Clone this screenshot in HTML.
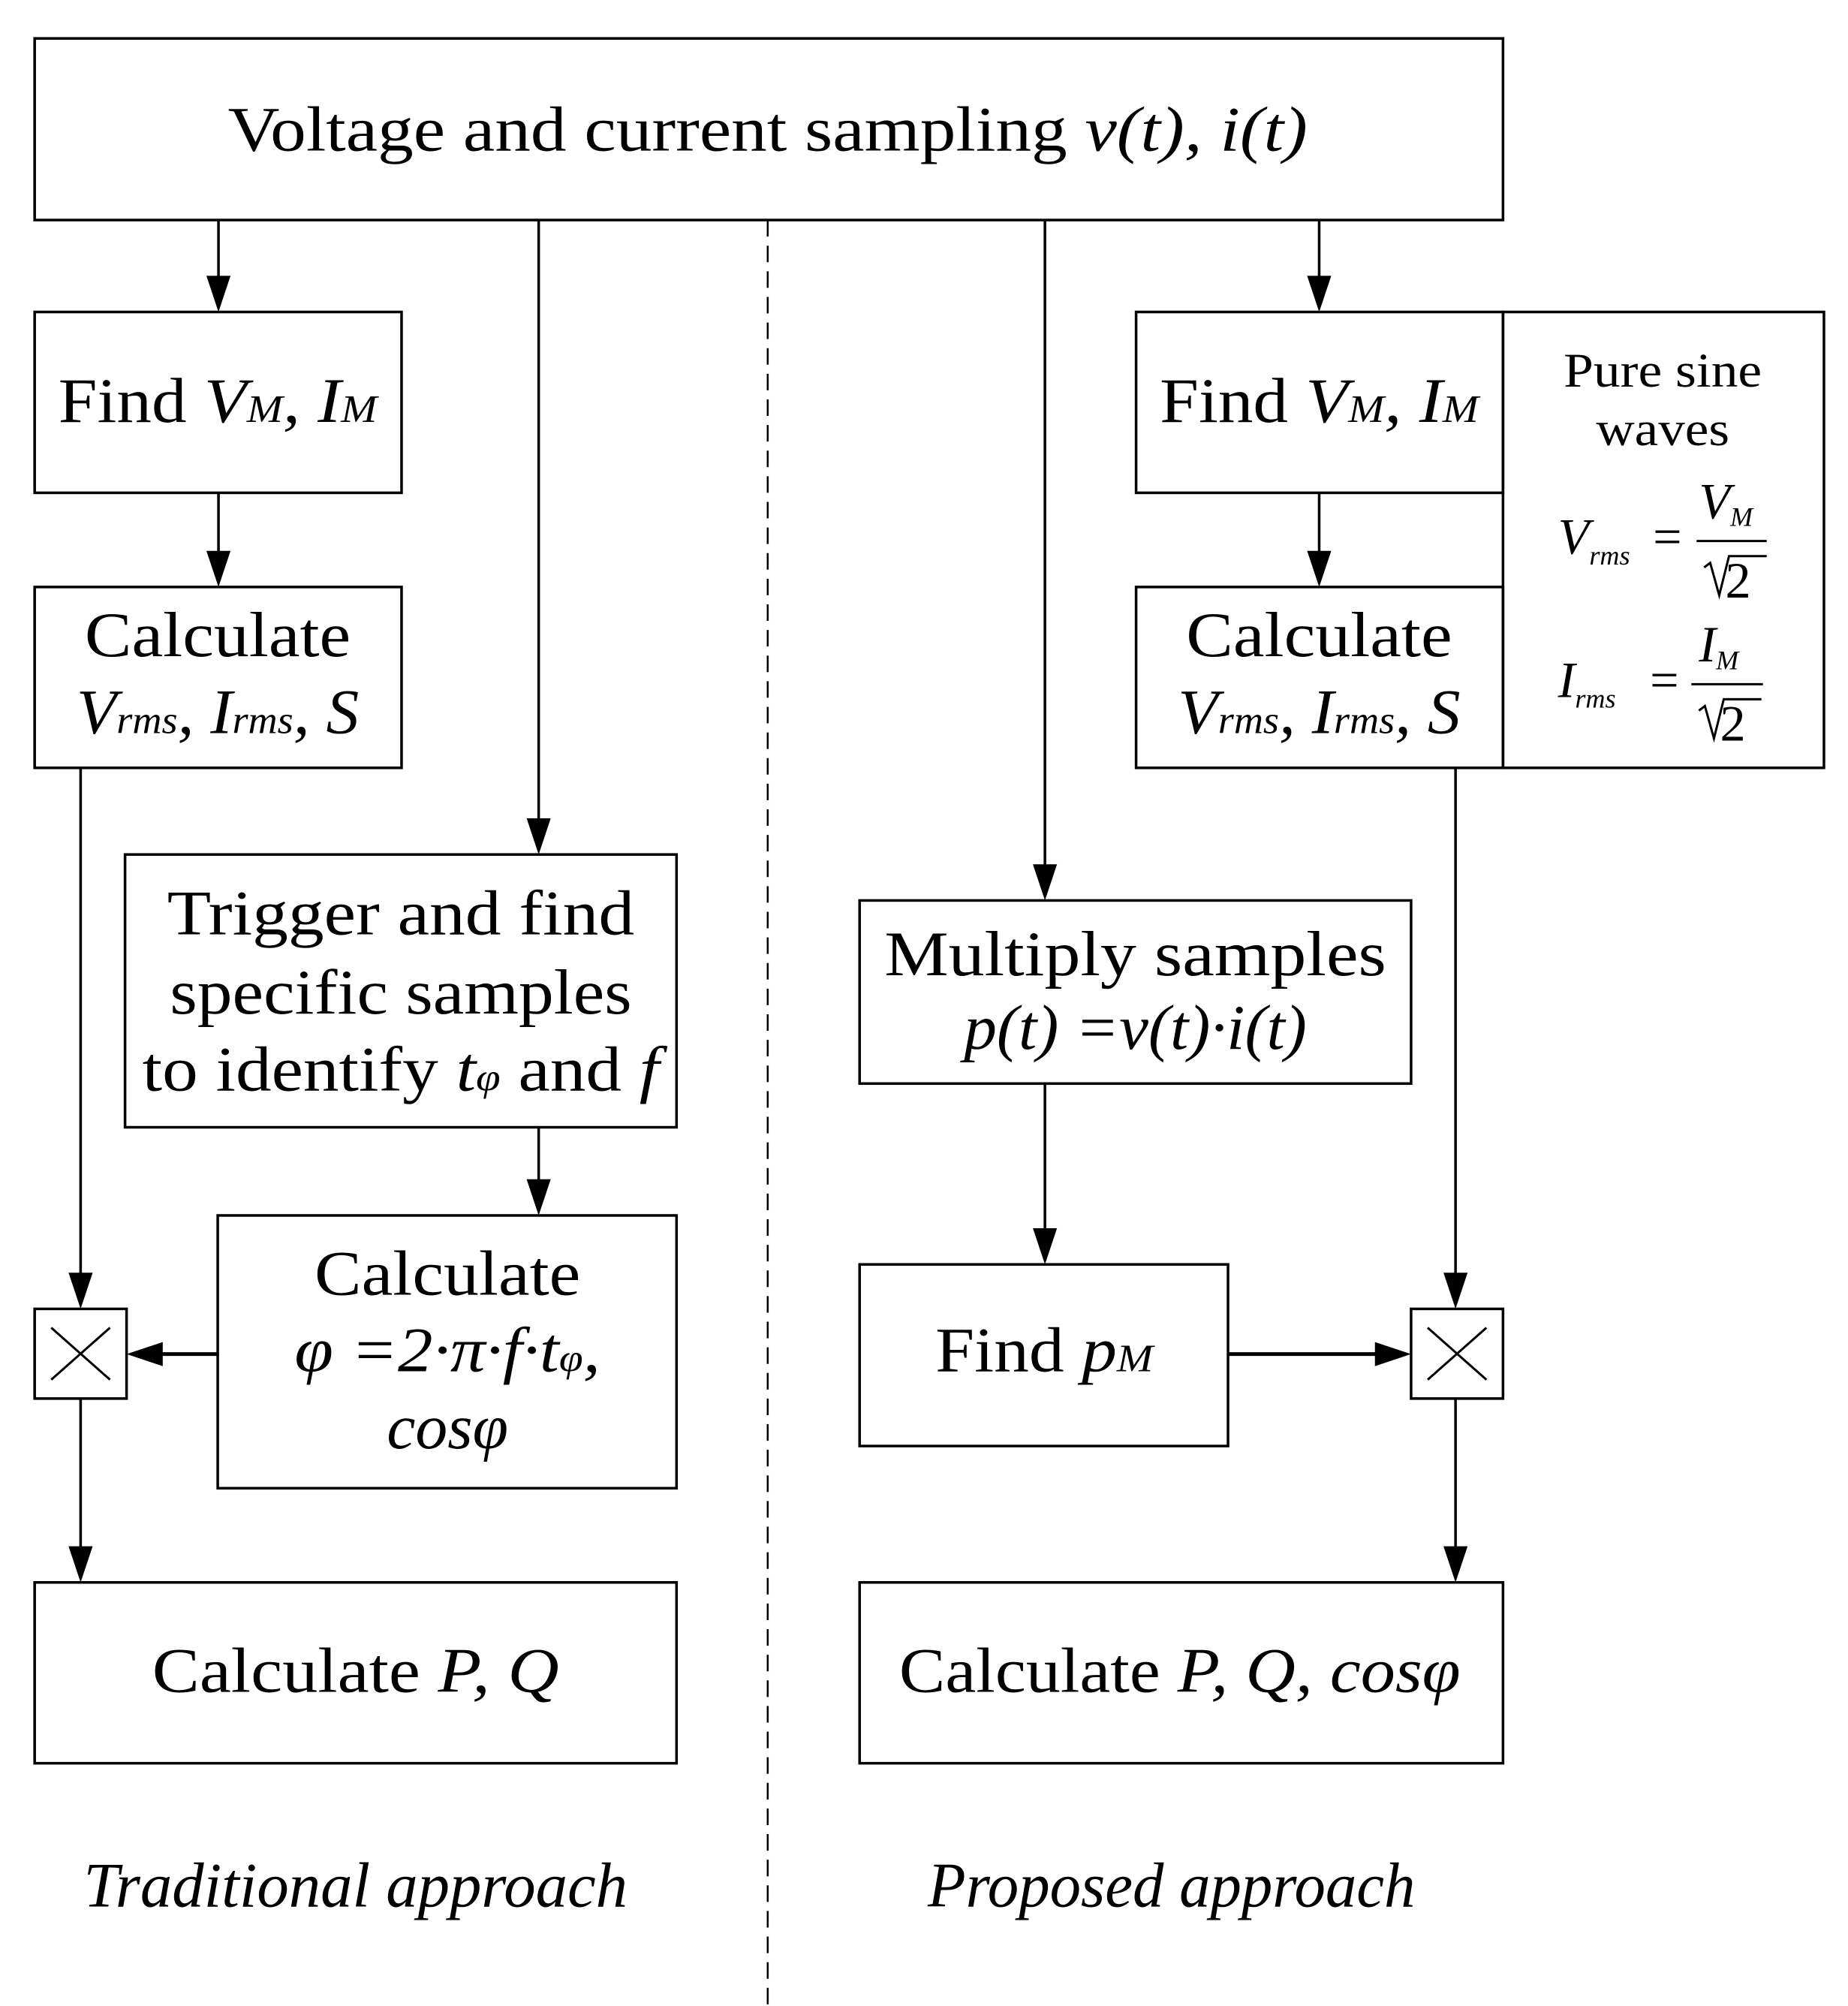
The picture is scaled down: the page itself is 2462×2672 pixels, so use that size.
<!DOCTYPE html>
<html><head><meta charset="utf-8"><style>
html,body{margin:0;padding:0;background:#fff}
svg{display:block}
text{font-family:"Liberation Serif",serif;fill:#000}
.i{font-style:italic}
</style></head><body>
<svg width="2462" height="2672" viewBox="0 0 2462 2672" xmlns="http://www.w3.org/2000/svg">
<g transform="scale(1.0037)">
<g fill="none" stroke="#000" stroke-width="3.5">
<rect x="46" y="51" width="1949" height="241"/>
<rect x="46" y="414" width="487" height="240"/>
<rect x="46" y="779" width="487" height="240"/>
<rect x="1508" y="414" width="487" height="240"/>
<rect x="1508" y="779" width="487" height="240"/>
<rect x="1995" y="414" width="426" height="605"/>
<rect x="166" y="1134" width="732" height="362"/>
<rect x="289" y="1613" width="609" height="362"/>
<rect x="46" y="1737" width="122" height="119"/>
<rect x="46" y="2100" width="852" height="240"/>
<rect x="1141" y="1195" width="732" height="243"/>
<rect x="1141" y="1678" width="489" height="241"/>
<rect x="1873" y="1737" width="122" height="119"/>
<rect x="1141" y="2100" width="854" height="240"/>
<path d="M68,1762 L146,1831 M146,1762 L68,1831 M1895,1762 L1973,1831 M1973,1762 L1895,1831" stroke-width="3"/>
<line x1="1019" y1="292" x2="1019" y2="2660" stroke-width="2.5" stroke-dasharray="22,12"/>
<line x1="290" y1="292" x2="290" y2="370"/>
<line x1="715" y1="292" x2="715" y2="1090"/>
<line x1="1387" y1="292" x2="1387" y2="1150"/>
<line x1="1751" y1="292" x2="1751" y2="370"/>
<line x1="290" y1="654" x2="290" y2="735"/>
<line x1="1751" y1="654" x2="1751" y2="735"/>
<line x1="107" y1="1019" x2="107" y2="1693"/>
<line x1="715" y1="1496" x2="715" y2="1570"/>
<line x1="289" y1="1797" x2="210" y2="1797" stroke-width="5"/>
<line x1="107" y1="1856" x2="107" y2="2056"/>
<line x1="1387" y1="1438" x2="1387" y2="1634"/>
<line x1="1630" y1="1797" x2="1830" y2="1797" stroke-width="5"/>
<line x1="1932" y1="1019" x2="1932" y2="1693"/>
<line x1="1932" y1="1856" x2="1932" y2="2056"/>
<line x1="2252" y1="718" x2="2345" y2="718" stroke-width="3"/>
<line x1="2245" y1="908" x2="2340" y2="908" stroke-width="3"/>
<path d="M2262,753 L2270,747 L2282,790 L2295,738 L2345,738" stroke-width="3"/>
<path d="M2255,943 L2263,937 L2275,980 L2288,928 L2338,928" stroke-width="3"/>
</g>
<g fill="#000">
<polygon points="274,366 306,366 290,414"/>
<polygon points="699,1086 731,1086 715,1134"/>
<polygon points="1371,1147 1403,1147 1387,1195"/>
<polygon points="1735,366 1767,366 1751,414"/>
<polygon points="274,731 306,731 290,779"/>
<polygon points="1735,731 1767,731 1751,779"/>
<polygon points="91,1689 123,1689 107,1737"/>
<polygon points="699,1565 731,1565 715,1613"/>
<polygon points="216,1781 216,1813 168,1797"/>
<polygon points="91,2052 123,2052 107,2100"/>
<polygon points="1371,1630 1403,1630 1387,1678"/>
<polygon points="1825,1781 1825,1813 1873,1797"/>
<polygon points="1916,1689 1948,1689 1932,1737"/>
<polygon points="1916,2052 1948,2052 1932,2100"/>
</g>
<g font-size="84" text-anchor="middle">
<text x="1019" y="200" textLength="1433" lengthAdjust="spacingAndGlyphs">Voltage and current sampling <tspan class="i">v(t), i(t)</tspan></text>
<text x="289" y="560" textLength="423" lengthAdjust="spacingAndGlyphs">Find <tspan class="i">V<tspan font-size="52">M</tspan>, I<tspan font-size="52">M</tspan></tspan></text>
<text x="1751" y="560" textLength="423" lengthAdjust="spacingAndGlyphs">Find <tspan class="i">V<tspan font-size="52">M</tspan>, I<tspan font-size="52">M</tspan></tspan></text>
<text x="289" y="871" textLength="353" lengthAdjust="spacingAndGlyphs">Calculate</text>
<text x="289" y="973" class="i" textLength="375" lengthAdjust="spacingAndGlyphs">V<tspan font-size="52">rms</tspan>, I<tspan font-size="52">rms</tspan>, S</text>
<text x="1751" y="871" textLength="353" lengthAdjust="spacingAndGlyphs">Calculate</text>
<text x="1751" y="973" class="i" textLength="375" lengthAdjust="spacingAndGlyphs">V<tspan font-size="52">rms</tspan>, I<tspan font-size="52">rms</tspan>, S</text>
<text x="532" y="1240" textLength="620" lengthAdjust="spacingAndGlyphs">Trigger and find</text>
<text x="532" y="1345" textLength="613" lengthAdjust="spacingAndGlyphs">specific samples</text>
<text x="532" y="1447" textLength="686" lengthAdjust="spacingAndGlyphs">to identify <tspan class="i">t<tspan font-size="52">φ</tspan></tspan> and <tspan class="i">f</tspan></text>
<text x="594" y="1718" textLength="353" lengthAdjust="spacingAndGlyphs">Calculate</text>
<text x="594" y="1820" class="i" textLength="406" lengthAdjust="spacingAndGlyphs">φ =2·π·f·t<tspan font-size="52">φ</tspan>,</text>
<text x="594" y="1922" class="i" textLength="161" lengthAdjust="spacingAndGlyphs">cosφ</text>
<text x="1507" y="1294" textLength="666" lengthAdjust="spacingAndGlyphs">Multiply samples</text>
<text x="1507" y="1392" class="i" textLength="455" lengthAdjust="spacingAndGlyphs">p(t) =v(t)·i(t)</text>
<text x="1386" y="1820" textLength="289" lengthAdjust="spacingAndGlyphs">Find <tspan class="i">p<tspan font-size="52">M</tspan></tspan></text>
<text x="472" y="2245" textLength="540" lengthAdjust="spacingAndGlyphs">Calculate <tspan class="i">P, Q</tspan></text>
<text x="1566" y="2245" textLength="745" lengthAdjust="spacingAndGlyphs">Calculate <tspan class="i">P, Q, cosφ</tspan></text>
<text x="472" y="2530" class="i" textLength="722" lengthAdjust="spacingAndGlyphs">Traditional approach</text>
<text x="1555" y="2530" class="i" textLength="647" lengthAdjust="spacingAndGlyphs">Proposed approach</text>
</g>
<g font-size="64" text-anchor="middle">
<text x="2207" y="513" textLength="263" lengthAdjust="spacingAndGlyphs">Pure sine</text>
<text x="2207" y="591" textLength="177" lengthAdjust="spacingAndGlyphs">waves</text>
</g>
<g font-size="68">
<text x="2068" y="735" class="i">V<tspan font-size="36" dy="14">rms</tspan></text>
<text x="2194" y="735">=</text>
<text x="2255" y="688" class="i">V<tspan font-size="36" dy="10">M</tspan></text>
<text x="2290" y="793">2</text>
<text x="2068" y="925" class="i">I<tspan font-size="36" dy="14">rms</tspan></text>
<text x="2190" y="925">=</text>
<text x="2255" y="878" class="i">I<tspan font-size="36" dy="10">M</tspan></text>
<text x="2283" y="983">2</text>
</g>
</g>
</svg>
</body></html>
